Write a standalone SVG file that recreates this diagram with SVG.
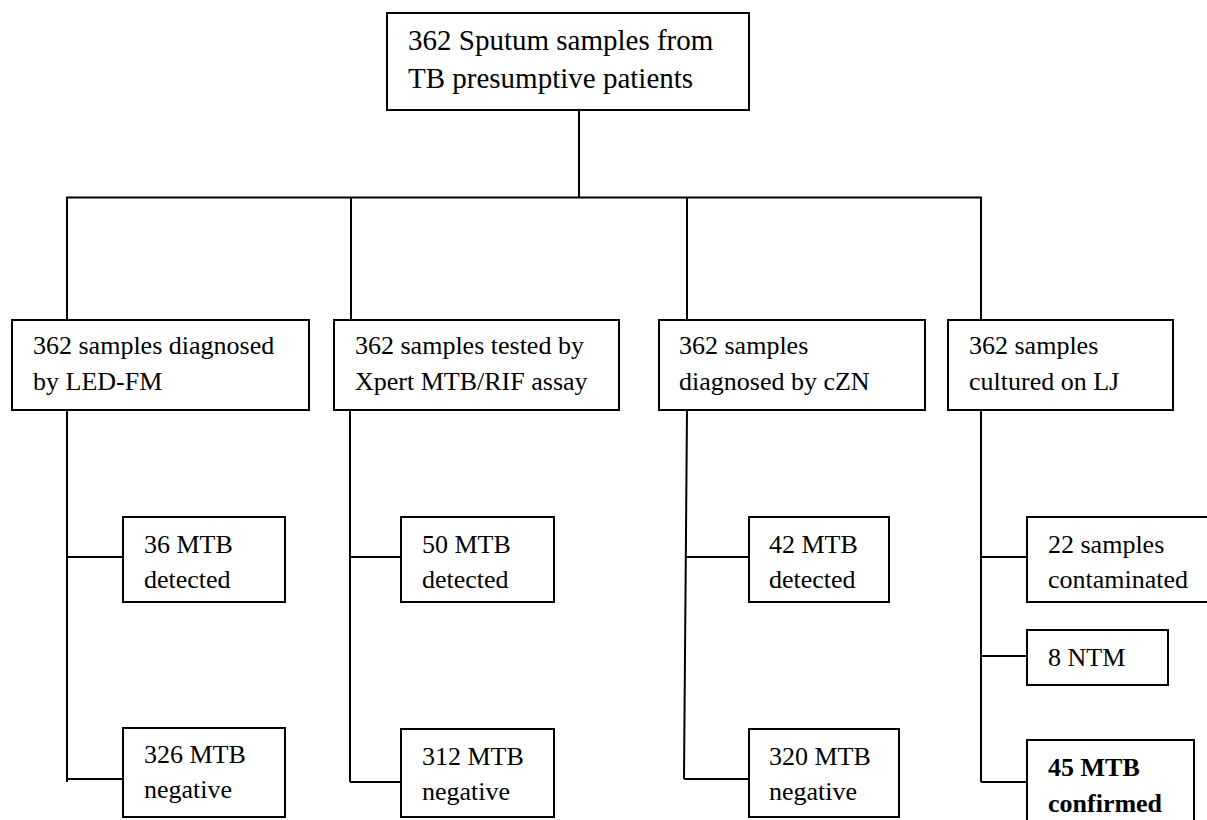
<svg xmlns="http://www.w3.org/2000/svg" width="1207" height="820" viewBox="0 0 1207 820">
<style>
.box{fill:#fff;stroke:#000;stroke-width:2}
.ln{fill:none;stroke:#000;stroke-width:2}
.t0{font-size:29px}
.t{font-size:26px}
.b{font-size:26px;font-weight:bold}
</style>
<rect width="1207" height="820" fill="#fff"/>
<g id="connectors">
<path class="ln" d="M579,110 V197.5 M66,197.5 H982 M67,197.5 V320 M351,197.5 V320 M687,197.5 V320 M981,197.5 V320"/>
<path class="ln" d="M67,410 V782 M67,557 H123 M67,779 H123"/>
<path class="ln" d="M350,410 V782 M350,557 H401 M350,782 H401"/>
<path class="ln" d="M687,410 L684,779 M686,557 H749 M684,779 H749"/>
<path class="ln" d="M981,410 V782 M981,557 H1027 M981,656 H1027 M981,782 H1027"/>
</g>
<g font-family="'Liberation Serif', 'Times New Roman', 'DejaVu Serif', serif" fill="#000">
<g id="root">
<rect class="box" x="387" y="13" width="362" height="97"/>
<text class="t0" x="408" y="50">362 Sputum samples from</text>
<text class="t0" x="408" y="88">TB presumptive patients</text>
</g>
<g id="ledfm">
<rect class="box" x="12" y="320" width="297" height="90"/>
<text class="t" x="33" y="354">362 samples diagnosed</text>
<text class="t" x="33" y="390">by LED-FM</text>
</g>
<g id="xpert">
<rect class="box" x="334" y="320" width="285" height="90"/>
<text class="t" x="355" y="354">362 samples tested by</text>
<text class="t" x="355" y="390">Xpert MTB/RIF assay</text>
</g>
<g id="czn">
<rect class="box" x="659" y="320" width="266" height="90"/>
<text class="t" x="679" y="354">362 samples</text>
<text class="t" x="679" y="390">diagnosed by cZN</text>
</g>
<g id="lj">
<rect class="box" x="948" y="320" width="225" height="90"/>
<text class="t" x="969" y="354">362 samples</text>
<text class="t" x="969" y="390">cultured on LJ</text>
</g>
<g id="led-pos">
<rect class="box" x="123" y="517" width="162" height="85"/>
<text class="t" x="144" y="553">36 MTB</text>
<text class="t" x="144" y="588">detected</text>
</g>
<g id="led-neg">
<rect class="box" x="123" y="728" width="162" height="89"/>
<text class="t" x="144" y="763">326 MTB</text>
<text class="t" x="144" y="798">negative</text>
</g>
<g id="xpert-pos">
<rect class="box" x="401" y="517" width="153" height="85"/>
<text class="t" x="422" y="553">50 MTB</text>
<text class="t" x="422" y="588">detected</text>
</g>
<g id="xpert-neg">
<rect class="box" x="401" y="729" width="153" height="88"/>
<text class="t" x="422" y="765">312 MTB</text>
<text class="t" x="422" y="800">negative</text>
</g>
<g id="czn-pos">
<rect class="box" x="749" y="517" width="140" height="85"/>
<text class="t" x="769" y="553">42 MTB</text>
<text class="t" x="769" y="588">detected</text>
</g>
<g id="czn-neg">
<rect class="box" x="749" y="729" width="150" height="88"/>
<text class="t" x="769" y="765">320 MTB</text>
<text class="t" x="769" y="800">negative</text>
</g>
<g id="lj-cont">
<rect class="box" x="1027" y="517" width="185" height="85"/>
<text class="t" x="1048" y="553">22 samples</text>
<text class="t" x="1048" y="588">contaminated</text>
</g>
<g id="lj-ntm">
<rect class="box" x="1027" y="630" width="141" height="55"/>
<text class="t" x="1048" y="666">8 NTM</text>
</g>
<g id="lj-mtb">
<rect class="box" x="1027" y="740" width="167" height="90"/>
<text class="b" x="1048" y="776">45 MTB</text>
<text class="b" x="1048" y="812">confirmed</text>
</g>
</g>
</svg>
